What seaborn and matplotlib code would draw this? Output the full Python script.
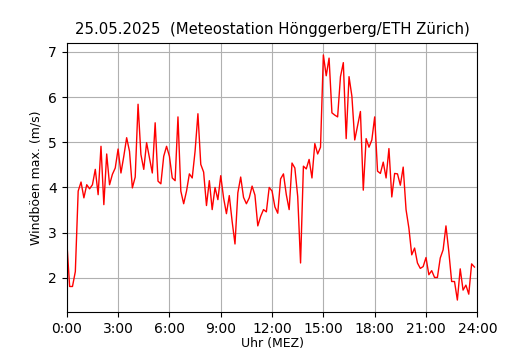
import numpy as np
import pandas as pd
import matplotlib
matplotlib.use('Agg')
import matplotlib.pyplot as plt
import seaborn as sns

# Windböen max. (m/s), 10-Minuten-Werte ab 0:00
gusts = [
    2.81, 1.81, 1.81, 2.14, 3.92, 4.12, 3.77, 4.06, 3.97, 4.06, 4.40, 3.84,
    4.91, 3.62, 4.74, 4.06, 4.29, 4.43, 4.85, 4.32, 4.69, 5.10, 4.80, 3.99,
    4.23, 5.84, 4.73, 4.40, 4.99, 4.66, 4.32, 5.43, 4.14, 4.08, 4.69, 4.91,
    4.69, 4.21, 4.15, 5.56, 3.92, 3.64, 3.92, 4.30, 4.21, 4.80, 5.63, 4.51,
    4.34, 3.60, 4.15, 3.51, 4.00, 3.73, 4.26, 3.77, 3.42, 3.82, 3.25, 2.75,
    3.88, 4.23, 3.78, 3.64, 3.77, 4.03, 3.83, 3.15, 3.36, 3.51, 3.46, 4.00,
    3.92, 3.57, 3.43, 4.19, 4.30, 3.84, 3.51, 4.54, 4.43, 3.80, 2.33, 4.47,
    4.41, 4.62, 4.21, 4.97, 4.74, 4.89, 6.93, 6.47, 6.86, 5.65, 5.60, 5.56,
    6.45, 6.76, 5.08, 6.45, 6.02, 5.05, 5.36, 5.68, 3.94, 5.08, 4.89, 5.05,
    5.56, 4.36, 4.31, 4.56, 4.21, 4.86, 3.79, 4.31, 4.30, 4.05, 4.45, 3.51,
    3.10, 2.51, 2.66, 2.33, 2.21, 2.25, 2.45, 2.07, 2.16, 2.01, 2.01, 2.44,
    2.62, 3.15, 2.58, 1.92, 1.92, 1.51, 2.20, 1.73, 1.84, 1.64, 2.31, 2.24,
]
hours = np.arange(len(gusts)) / 6.0

tick_hours = list(range(0, 25, 3))
tick_labels = [f'{h}:00' for h in tick_hours]

df = pd.DataFrame({'Stunde': hours, 'Boe': gusts})

fig, ax = plt.subplots(figsize=(5.3, 3.5), dpi=100)
fig.subplots_adjust(left=0.126, right=0.9006, bottom=0.1077, top=0.878)

sns.lineplot(data=df, x='Stunde', y='Boe', color='red', linewidth=1, ax=ax)

ax.set_xlim(0, 24)
ax.set_xticks(tick_hours)
ax.set_xticklabels(tick_labels)
ax.grid(True)
ax.set_xlabel('Uhr (MEZ)', fontsize=9, labelpad=1)
ax.set_ylabel('Windböen max. (m/s)', fontsize=9)
ax.set_title('25.05.2025  (Meteostation Hönggerberg/ETH Zürich)', fontsize=10.7)

fig.savefig('out.png', dpi=100)
